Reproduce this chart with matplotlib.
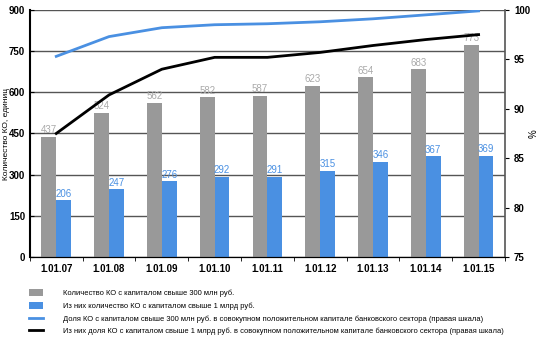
import matplotlib.pyplot as plt
import numpy as np

plt.rcParams['font.family'] = ['Liberation Sans', 'DejaVu Sans']

dates = ['1.01.07', '1.01.08', '1.01.09', '1.01.10', '1.01.11',
         '1.01.12', '1.01.13', '1.01.14', '1.01.15']
count_300 = [437, 524, 562, 582, 587, 623, 654, 683, 773]
count_1bn = [206, 247, 276, 292, 291, 315, 346, 367, 369]
share_300 = [95.3, 97.3, 98.2, 98.5, 98.6, 98.8, 99.1, 99.5, 99.9]
share_1bn = [87.5, 91.4, 94.0, 95.2, 95.2, 95.7, 96.4, 97.0, 97.5]

gray = '#999999'
blue = '#4a90e2'

fig = plt.figure(figsize=(5.43, 3.54), dpi=100)
ax = fig.add_axes([0.055, 0.274, 0.875, 0.698])
ax2 = ax.twinx()

x = np.arange(len(dates))
w = 0.28
b1 = ax.bar(x - w / 2, count_300, w, color=gray, zorder=2)
b2 = ax.bar(x + w / 2, count_1bn, w, color=blue, zorder=2)
for xi, v in zip(x, count_300):
    ax.text(xi - w / 2, v + 6, str(v), ha='center', va='bottom', fontsize=7, color='#aaaaaa')
for xi, v in zip(x, count_1bn):
    ax.text(xi + w / 2, v + 6, str(v), ha='center', va='bottom', fontsize=7, color=blue)

l1, = ax2.plot(x, share_300, color='#4a90e2', lw=2)
l2, = ax2.plot(x, share_1bn, color='black', lw=2)

ax.set_ylim(0, 900)
ax.set_yticks(range(0, 901, 150))
ax.set_xlim(-0.5, len(dates) - 0.59)
ax.set_xticks(x)
ax.set_xticklabels(dates, fontsize=7, fontweight='bold')
ax.set_xticks(np.arange(-0.5, len(dates), 1), minor=True)
ax.tick_params(axis='x', which='major', length=0, pad=5)
ax.tick_params(axis='x', which='minor', length=3, direction='out')
ax.tick_params(axis='y', labelsize=7, length=3, direction='in')
for t in ax.get_yticklabels():
    t.set_fontweight('bold')
ax.yaxis.grid(True, color='#555555', lw=1, zorder=0)
ax.set_ylabel('Количество КО, единиц', fontsize=6)
ax.yaxis.set_label_coords(-0.041, 0.5)

ax2.set_ylim(75, 100)
ax2.set_yticks(range(75, 101, 5))
ax2.tick_params(axis='y', labelsize=7, length=3, direction='out')
for t in ax2.get_yticklabels():
    t.set_fontweight('bold')
ax2.set_ylabel('%', fontsize=7, rotation=90)
ax2.yaxis.set_label_coords(1.05, 0.5)

for a in (ax, ax2):
    a.spines['top'].set_visible(False)
ax.spines['left'].set_linewidth(1.5)
ax.spines['right'].set_visible(False)
ax2.spines['left'].set_visible(False)
ax2.spines['right'].set_color('#555555')
ax2.spines['right'].set_linewidth(1.2)

labels = ['Количество КО с капиталом свыше 300 млн руб.',
          'Из них количество КО с капиталом свыше 1 млрд руб.',
          'Доля КО с капиталом свыше 300 млн руб. в совокупном положительном капитале банковского сектора (правая шкала)',
          'Из них доля КО с капиталом свыше 1 млрд руб. в совокупном положительном капитале банковского сектора (правая шкала)']
fig.legend([b1, b2, l1, l2], labels, loc='upper left', bbox_to_anchor=(0.048, 0.192),
           frameon=False, fontsize=5.4, handlelength=1.9, handleheight=1.0,
           labelspacing=0.65, handletextpad=2.6, borderaxespad=0)

fig.savefig('out.png', dpi=100)
